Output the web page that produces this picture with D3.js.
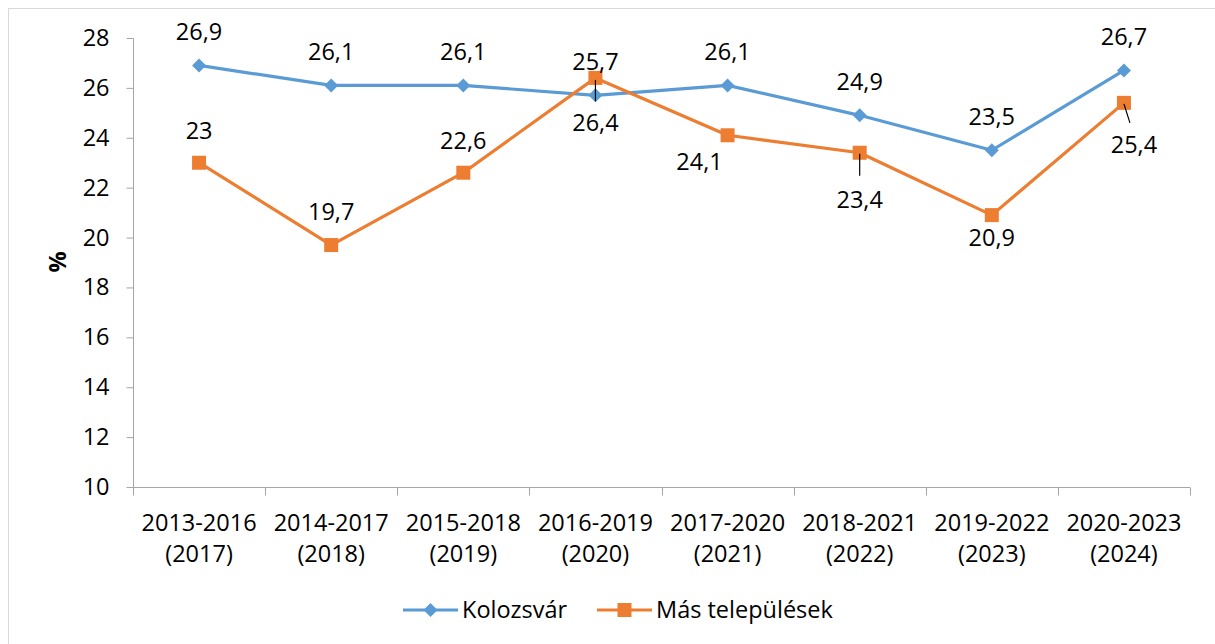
<!DOCTYPE html>
<html><head><meta charset="utf-8">
<script src="https://cdn.jsdelivr.net/npm/d3@7"></script>
<style>
html,body{margin:0;padding:0;background:#fff;}
svg{display:block;font-family:"Open Sans",sans-serif;}
</style></head>
<body><svg id="c" width="1215" height="644"></svg>
<script>
const categories = ["2013-2016 (2017)","2014-2017 (2018)","2015-2018 (2019)","2016-2019 (2020)","2017-2020 (2021)","2018-2021 (2022)","2019-2022 (2023)","2020-2023 (2024)"];
const kolozsvar = [26.9, 26.1, 26.1, 25.7, 26.1, 24.9, 23.5, 26.7];
const masTelepulesek = [23, 19.7, 22.6, 26.4, 24.1, 23.4, 20.9, 25.4];
const seriesNames = ["Kolozsvár", "Más települések"];
const yTicks = [10,12,14,16,18,20,22,24,26,28];
// label placement (layout): dx, dy relative to point
const kolLabelPos = [[0,-33],[0,-33],[0,-33],[0,-33],[0,-33],[0,-33],[0,-33],[0,-33]];
const masLabelPos = [[0,-32],[0,-33],[0,-32],[0,45],[-28,27],[0,47],[0,23],[10,42]];

const svg = d3.select("#c");
const fmt = v => String(v).replace(".", ",");
const blue = "#5B9BD5", orange = "#ED7D31", axisCol = "#A6A6A6";
const fs = 23.5;

svg.append("rect").attr("x",8.5).attr("y",8.5).attr("width",1300).attr("height",700)
  .attr("fill","none").attr("stroke","#D9D9D9").attr("stroke-width",1);

const x = d3.scaleBand().domain(categories).range([133,1190]);
const y = d3.scaleLinear().domain([10,28]).range([487,38]);

// y axis
const ya = svg.append("g").attr("transform","translate(133.5,0)")
  .call(d3.axisLeft(y).tickValues(yTicks).tickSize(7).tickPadding(17).tickFormat(d=>d));
ya.selectAll("path").attr("stroke",axisCol).attr("d","M0,38.5V487.5");
ya.selectAll("line").attr("stroke",axisCol);
ya.selectAll("text").attr("font-size",fs).attr("fill","#000").attr("font-family","Open Sans");

// x axis
const xa = svg.append("g").attr("transform","translate(0,487.5)");
xa.append("line").attr("x1",133).attr("x2",1190).attr("stroke",axisCol);
const bounds = categories.map(c=>x(c)).concat([x.range()[1]]);
xa.selectAll("line.t").data(bounds).enter().append("line").attr("class","t")
  .attr("x1",d=>Math.round(d)+0.5).attr("x2",d=>Math.round(d)+0.5).attr("y1",0).attr("y2",8).attr("stroke",axisCol);
const xl = xa.selectAll("text").data(categories).enter().append("text")
  .attr("x",d=>x(d)+x.bandwidth()/2).attr("text-anchor","middle").attr("font-size",fs).attr("fill","#000");
xl.append("tspan").attr("x",d=>x(d)+x.bandwidth()/2).attr("y",43).text(d=>d.split(" ")[0]);
xl.append("tspan").attr("x",d=>x(d)+x.bandwidth()/2).attr("y",74).text(d=>d.split(" ")[1]);

// y title
svg.append("text").attr("transform","translate(66,262) rotate(-90)").attr("text-anchor","middle")
  .attr("font-size",fs).attr("font-weight","bold").text("%");

const cx = c => x(c)+x.bandwidth()/2;
const line = d3.line().x((d,i)=>cx(categories[i])).y(d=>y(d));

function drawSeries(vals,color,marker){
  svg.append("path").datum(vals).attr("d",line).attr("fill","none").attr("stroke",color).attr("stroke-width",3.2).attr("stroke-linejoin","round");
  const g = svg.append("g");
  vals.forEach((v,i)=>{
    const px = cx(categories[i]), py = y(v);
    if(marker==="diamond"){
      g.append("path").attr("d",`M${px},${py-7}L${px+7},${py}L${px},${py+7}L${px-7},${py}Z`).attr("fill",color);
    } else {
      g.append("rect").attr("x",px-7).attr("y",py-7).attr("width",14).attr("height",14).attr("fill",color);
    }
  });
}
drawSeries(kolozsvar,blue,"diamond");
drawSeries(masTelepulesek,orange,"square");

// leader lines
function leader(x1,y1,x2,y2){svg.append("line").attr("x1",x1).attr("y1",y1).attr("x2",x2).attr("y2",y2).attr("stroke","#000").attr("stroke-width",1.2);}
leader(cx(categories[3]), y(masTelepulesek[3])+2, cx(categories[3]), y(kolozsvar[3])+6);
leader(cx(categories[5]), y(masTelepulesek[5])+1, cx(categories[5]), y(masTelepulesek[5])+23);
leader(cx(categories[7]), y(masTelepulesek[7])+1, cx(categories[7])+6, y(masTelepulesek[7])+20);

function labels(vals,pos){
  vals.forEach((v,i)=>{
    svg.append("text").attr("x",cx(categories[i])+pos[i][0]).attr("y",y(v)+pos[i][1]+8)
      .attr("text-anchor","middle").attr("font-size",fs).attr("fill","#000").text(fmt(v));
  });
}
labels(kolozsvar,kolLabelPos);
labels(masTelepulesek,masLabelPos);

// legend
const leg = svg.append("g").attr("transform","translate(0,610)");
const items = [{n:seriesNames[0],c:blue,m:"diamond",x0:403},{n:seriesNames[1],c:orange,m:"square",x0:597}];
items.forEach(it=>{
  leg.append("line").attr("x1",it.x0).attr("x2",it.x0+55).attr("y1",0).attr("y2",0).attr("stroke",it.c).attr("stroke-width",3.2);
  const mx = it.x0+27.5;
  if(it.m==="diamond") leg.append("path").attr("d",`M${mx},-7L${mx+7},0L${mx},7L${mx-7},0Z`).attr("fill",it.c);
  else leg.append("rect").attr("x",mx-7).attr("y",-7).attr("width",14).attr("height",14).attr("fill",it.c);
  leg.append("text").attr("x",it.x0+59).attr("y",8).attr("font-size",fs).attr("fill","#000").text(it.n);
});
</script></body></html>
